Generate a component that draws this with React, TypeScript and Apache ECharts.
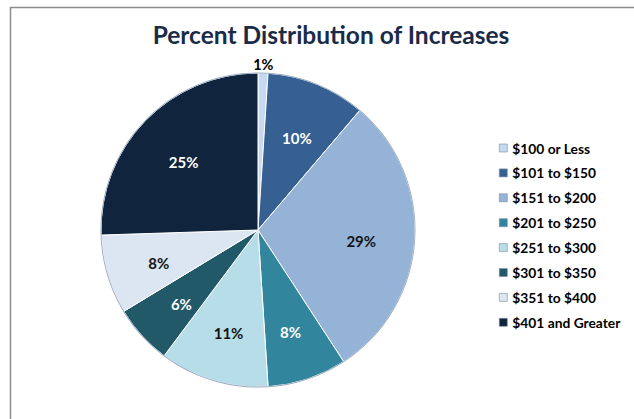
import React, { useEffect, useRef } from 'react';
import * as echarts from 'echarts';

const categories = [
  '$100 or Less',
  '$101 to $150',
  '$151 to $200',
  '$201 to $250',
  '$251 to $300',
  '$301 to $350',
  '$351 to $400',
  '$401 and Greater',
];
const percents = [1, 10, 29, 8, 11, 6, 8, 25];
const sliceColors = ['#C6D9F1', '#376092', '#95B3D7', '#31859C', '#B7DEE8', '#215968', '#DCE6F2', '#10243E'];
const labelColors = ['#000000', '#ffffff', '#141414', '#ffffff', '#141414', '#ffffff', '#141414', '#ffffff'];
const titleText = 'Percent Distribution of Increases';

const FONT = 'Lato, "Noto Sans", sans-serif';

export default function App() {
  const ref = useRef<HTMLDivElement>(null);
  useEffect(() => {
    if (!ref.current) return;
    const chart = echarts.init(ref.current, null, { renderer: 'svg' });
    const center = [258, 230];
    const R = 157;
    chart.setOption({
      animation: false,
      backgroundColor: '#ffffff',
      title: {
        text: titleText,
        left: 326,
        top: 17,
        textAlign: 'center',
        textStyle: { fontFamily: FONT, fontSize: 24.5, fontWeight: 'bold', color: '#1a2b48' },
      },
      legend: {
        data: categories,
        orient: 'vertical',
        left: 499,
        top: 141,
        padding: 0,
        icon: 'rect',
        itemWidth: 8,
        itemHeight: 8,
        itemGap: 10.9,
        itemStyle: { borderColor: '#7a8ba3', borderWidth: 0.6 },
        textStyle: { fontFamily: FONT, fontSize: 13.8, fontWeight: 'bold', color: '#000', lineHeight: 14 },
        selectedMode: false,
      },
      graphic: [
        {
          type: 'rect',
          shape: { x: 10.5, y: 7.5, width: 700, height: 500 },
          style: { fill: 'none', stroke: '#8c8c8c', lineWidth: 1.5 },
          silent: true,
        },
      ],
      series: [
        {
          type: 'pie',
          name: 'main',
          center,
          radius: [0, R],
          startAngle: 90,
          avoidLabelOverlap: false,
          silent: true,
          itemStyle: { borderColor: '#ffffff', borderWidth: 1 },
          label: { show: false },
          labelLine: { show: false, length: 9, length2: 0 },
          labelLayout: { align: 'center' },
          data: categories.map((name, i) => ({
            name,
            value: percents[i],
            itemStyle: { color: sliceColors[i] },
            label:
              i === 0
                ? {
                    show: true,
                    position: 'outside',
                    formatter: '{c}%',
                    distanceToLabelLine: 0,
                    color: labelColors[i],
                    fontFamily: FONT,
                    fontSize: 14.5,
                    fontWeight: 'bold',
                  }
                : { show: false },
          })),
        },
        {
          type: 'pie',
          name: 'outline',
          center,
          radius: [R - 0.4, R + 0.5],
          silent: true,
          label: { show: false },
          labelLine: { show: false },
          itemStyle: { color: '#9aabc2' },
          data: [{ name: '__outline', value: 1 }],
        },
        {
          type: 'pie',
          name: 'labels',
          center,
          radius: [R * 0.28, R],
          startAngle: 90,
          silent: true,
          avoidLabelOverlap: false,
          itemStyle: { color: 'rgba(0,0,0,0)', borderWidth: 0 },
          labelLine: { show: false },
          labelLayout: { dy: 4 },
          label: {
            show: true,
            position: 'inside',
            formatter: '{c}%',
            fontFamily: FONT,
            fontSize: 15,
            fontWeight: 'bold',
          },
          data: categories.map((name, i) => ({
            name,
            value: percents[i],
            label: i === 0 ? { show: false } : { show: true, color: labelColors[i] },
          })),
        },
      ],
    });
    return () => chart.dispose();
  }, []);
  return (
    <div
      ref={ref}
      style={{ position: 'absolute', left: 0, top: 0, width: 634, height: 419 }}
    />
  );
}
